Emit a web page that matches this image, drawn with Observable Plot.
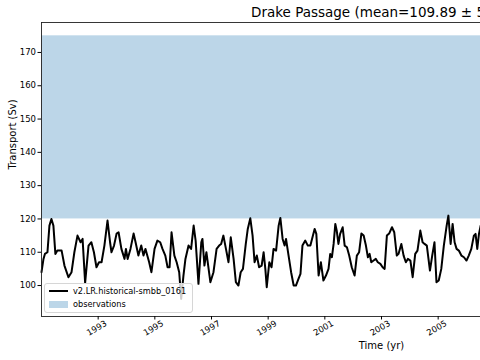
<!DOCTYPE html>
<html><head><meta charset="utf-8">
<script src="https://cdn.jsdelivr.net/npm/d3@7"></script>
<script src="https://cdn.jsdelivr.net/npm/@observablehq/plot@0.6"></script>
<style>
html,body{margin:0;padding:0;width:480px;height:360px;overflow:hidden;background:#fff;font-family:"DejaVu Sans",sans-serif;}
#wrap{position:relative;width:480px;height:360px;overflow:hidden;}
#chart{position:absolute;left:0;top:0;width:731px;height:360px;}
#chart svg{max-width:none !important;}
#title{position:absolute;left:251px;top:4px;font-size:13.5px;white-space:nowrap;color:#000;line-height:16px;}
#legend{position:absolute;left:44px;top:283px;width:149px;height:30px;box-sizing:border-box;background:rgba(255,255,255,0.8);border:1px solid #d6d6d6;border-radius:3px;font-size:8.2px;color:#000;}
.row{position:absolute;left:0;height:10px;white-space:nowrap;}
.sw-line{position:absolute;left:4px;width:19px;height:2px;background:#000;}
.sw-patch{position:absolute;left:4px;width:19px;height:7px;background:#bcd6e8;}
.lab{position:absolute;left:28px;line-height:10px;}
</style>
</head><body>
<div id="wrap">
  <div id="chart"></div>
  <div id="title"></div>
  <div id="legend">
    <div class="row" style="top:2px"><div class="sw-line" style="top:4px"></div><div class="lab lab1" style="top:0"></div></div>
    <div class="row" style="top:15px"><div class="sw-patch" style="top:1.5px"></div><div class="lab lab2" style="top:0"></div></div>
  </div>
</div>
<script>
const titleText = "Drake Passage (mean=109.89 ± 5.12 Sv)";
const seriesName = "v2.LR.historical-smbb_0161";
const obsName = "observations";
const xLabel = "Time (yr)";
const yLabel = "Transport (Sv)";
const obsRange = [120, 175];
const xTicks = [1993, 1995, 1997, 1999, 2001, 2003, 2005];
const yTicks = [100, 110, 120, 130, 140, 150, 160, 170];

const years = [
1991.00,1991.07,1991.12,1991.21,1991.28,1991.35,1991.42,1991.49,1991.56,1991.71,1991.81,1991.95,
1992.06,1992.16,1992.27,1992.38,1992.45,1992.54,1992.66,1992.76,1992.85,1992.94,
1993.03,1993.12,1993.22,1993.33,1993.42,1993.47,1993.56,1993.65,1993.72,1993.82,1993.93,1993.98,
1994.04,1994.14,1994.25,1994.32,1994.42,1994.52,1994.60,1994.67,1994.80,1994.88,1994.99,
1995.09,1995.19,1995.27,1995.37,1995.45,1995.52,1995.59,1995.69,1995.77,1995.86,1995.93,
1996.01,1996.08,1996.19,1996.28,1996.37,1996.44,1996.54,1996.64,1996.68,1996.75,1996.82,1996.96,
1997.07,1997.18,1997.27,1997.34,1997.42,1997.51,1997.60,1997.68,1997.78,1997.86,1997.95,
1998.03,1998.11,1998.21,1998.28,1998.37,1998.45,1998.52,1998.60,1998.68,1998.77,1998.84,1998.90,1998.95,
1999.04,1999.12,1999.19,1999.28,1999.37,1999.43,1999.51,1999.58,1999.63,1999.72,1999.81,1999.90,1999.98,
2000.07,2000.14,2000.21,2000.31,2000.40,2000.49,2000.58,2000.64,2000.70,2000.78,2000.86,2000.95,
2001.04,2001.13,2001.19,2001.25,2001.31,2001.37,2001.42,2001.48,2001.54,2001.63,2001.70,2001.78,2001.86,2001.95,
2002.05,2002.13,2002.21,2002.29,2002.37,2002.45,2002.52,2002.58,2002.64,2002.72,2002.80,2002.87,2002.96,
2003.04,2003.11,2003.19,2003.27,2003.37,2003.45,2003.54,2003.60,2003.70,2003.78,2003.86,2003.93,
2004.02,2004.10,2004.19,2004.27,2004.37,2004.45,2004.52,2004.60,2004.71,2004.79,2004.87,2004.94,
2005.02,2005.11,2005.20,2005.30,2005.36,2005.44,2005.51,2005.58,2005.65,2005.73,2005.82,2005.91,
2006.00,2006.08,2006.17,2006.26,2006.32,2006.38,2006.44,2006.50,2006.58
];
const transport = [
104,108,109.5,110,118,120,118,109.5,110.5,110.5,106,102.5,
104,110,115,113,114,100.8,112,113,110,105.5,
107,107,112,119.5,113,110,112,115.6,116,111,108,111,
108,111,115.6,113,109,112,109,111,107,104,111,
113.5,113,111,109,105.5,105.5,116,109,107,104,96,
103,108,112,111,118,113.5,100.5,113,114,106,110,101,
104,111,112,112.5,115,111,107,114.5,108,101,100,
104,105,112.5,117,120.2,115,107,109,105.5,106,110,105,99.5,
107,105.5,111,110.5,118,120.3,114,112,114,109,104,100,100,
102,103.5,112,113.5,112,112,115,117,115.5,103,107,101.5,
103,105,109.5,108.5,112.5,118.5,116.5,112.5,115.5,117.5,112,111.5,109,105.5,
103,109,110,115.6,115,112,108.5,109.5,107,107.5,108,107,106.5,
105.5,105,115,115.6,117.5,116,109,109.5,112.5,109,107,108,
107.5,102.5,109.5,110.5,116.5,113,112.5,112,104.5,109,113,101,
101.5,105,112,118,121,112.5,118.5,113,111,110.5,109,108.5,
107.5,109,111,115,115.5,111,115.5,118,117
];

const data = years.map((t, i) => ({t, v: transport[i]}));

const chart = Plot.plot({
  width: 731, height: 360,
  marginLeft: 41, marginRight: 10, marginTop: 22, marginBottom: 44,
  style: {fontFamily: "DejaVu Sans", fontSize: "8.5px", color: "#000", background: "white", maxWidth: "none"},
  x: {domain: [1991, 2015]},
  y: {domain: [90.7, 179]},
  marks: [
    Plot.rect([obsRange], {y1: d => d[0], y2: d => d[1], fill: "#bcd6e8"}),
    Plot.line(data, {x: "t", y: "v", stroke: "black", strokeWidth: 2, strokeLinejoin: "round"}),
    Plot.frame({stroke: "#222", strokeWidth: 0.9}),
    Plot.axisY({ticks: yTicks, tickSize: 3.5, tickPadding: 2, label: null, fontSize: 8.5}),
    Plot.axisX({ticks: xTicks, tickSize: 3.5, tickFormat: () => "", label: null}),
    Plot.text(xTicks, {x: d => d, frameAnchor: "bottom", dy: 14, rotate: -30, text: d => String(d), textAnchor: "middle", fontSize: 8.5}),
    Plot.text([xLabel], {frameAnchor: "bottom", dy: 32, text: d => d, fontSize: 10}),
    Plot.text([yLabel], {frameAnchor: "left", dx: -29, rotate: -90, text: d => d, fontSize: 10})
  ]
});
document.getElementById("chart").appendChild(chart);
document.getElementById("title").textContent = titleText;
document.querySelector(".lab1").textContent = seriesName;
document.querySelector(".lab2").textContent = obsName;
</script>
</body></html>
